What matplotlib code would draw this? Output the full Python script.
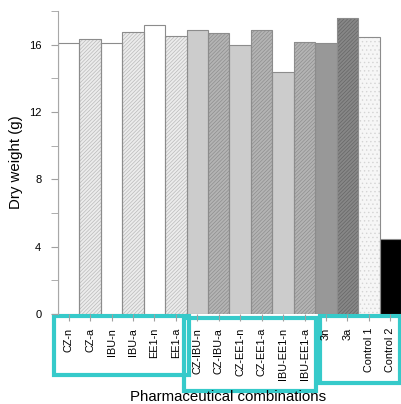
import matplotlib
matplotlib.use("Agg")
import matplotlib.pyplot as plt
from matplotlib.patches import Rectangle
from matplotlib.ticker import MultipleLocator

plt.rcParams['font.family'] = ['Liberation Sans', 'DejaVu Sans']
plt.rcParams['hatch.linewidth'] = 0.5

# ---- data ----
combinacoes = ['CZ-n', 'CZ-a', 'IBU-n', 'IBU-a', 'EE1-n', 'EE1-a',
               'CZ-IBU-n', 'CZ-IBU-a', 'CZ-EE1-n', 'CZ-EE1-a', 'IBU-EE1-n', 'IBU-EE1-a',
               '3n', '3a', 'Control 1', 'Control 2']
peso_seco = [16.1, 16.35, 16.1, 16.75, 17.15, 16.5,
             16.85, 16.7, 15.98, 16.9, 14.4, 16.15,
             16.1, 17.58, 16.45, 4.46]

# face, hatch colour, hatch pattern per bar
cor_face = ['#ffffff', '#ececec', '#ffffff', '#ececec', '#ffffff', '#ececec',
            '#cccccc', '#b4b4b4', '#cccccc', '#b4b4b4', '#cccccc', '#b4b4b4',
            '#989898', '#878787', '#f6f6f6', '#000000']
cor_hatch = ['#ffffff', '#bababa', '#ffffff', '#bababa', '#ffffff', '#bababa',
             '#cccccc', '#8e8e8e', '#cccccc', '#8e8e8e', '#cccccc', '#8e8e8e',
             '#989898', '#666666', '#d4d4d4', '#000000']
padrao = [None, '/////////', None, '/////////', None, '/////////',
          None, '/////////', None, '/////////', None, '/////////',
          None, '/////////', '....', None]

W, H = 402, 404
fig = plt.figure(figsize=(W / 100, H / 100), dpi=100)
ax = fig.add_axes([58 / W, 1 - 314 / H, (401 - 58) / W, (314 - 11) / H])

x = range(len(combinacoes))
for i in x:
    ax.bar(i, peso_seco[i], width=1.0, color=cor_face[i], edgecolor=cor_hatch[i],
           hatch=padrao[i], linewidth=0, zorder=2)
    ax.bar(i, peso_seco[i], width=1.0, color='none', edgecolor='#8c8c8c',
           linewidth=0.8, zorder=2.2)

ax.set_xlim(-0.5, len(combinacoes) - 0.5)
ax.set_ylim(0, 18)
ax.yaxis.set_major_locator(MultipleLocator(4))
ax.yaxis.set_minor_locator(MultipleLocator(2))
ax.set_xticks(list(x))
ax.set_xticklabels(combinacoes, rotation=90, fontsize=7.8)

for s in ['top', 'right', 'bottom']:
    ax.spines[s].set_visible(False)
ax.spines['left'].set_color('#a8a8a8')
ax.tick_params(axis='y', which='both', length=5, color='#a0a0a0', labelsize=8, pad=7)
ax.tick_params(axis='x', length=5, color='#a0a0a0', pad=5)

ax.set_ylabel('Dry weight (g)', fontsize=10.8, labelpad=4)
fig.text(228 / W, 1 - 397 / H, 'Pharmaceutical combinations', fontsize=10.8,
         ha='center', va='center')

# caixas de destaque (cyan) - abaixo dos rótulos dos ticks
caixas = [(54.5, 316, 189, 375), (184, 318, 316, 391), (320, 316, 400, 383)]
for x0, y0, x1, y1 in caixas:
    ax.add_patch(Rectangle((x0 / W, 1 - y1 / H), (x1 - x0) / W, (y1 - y0) / H,
                           transform=fig.transFigure, fill=False, clip_on=False,
                           edgecolor='#36caca', linewidth=3.0, zorder=1.2))

fig.savefig('out.png', dpi=100)
